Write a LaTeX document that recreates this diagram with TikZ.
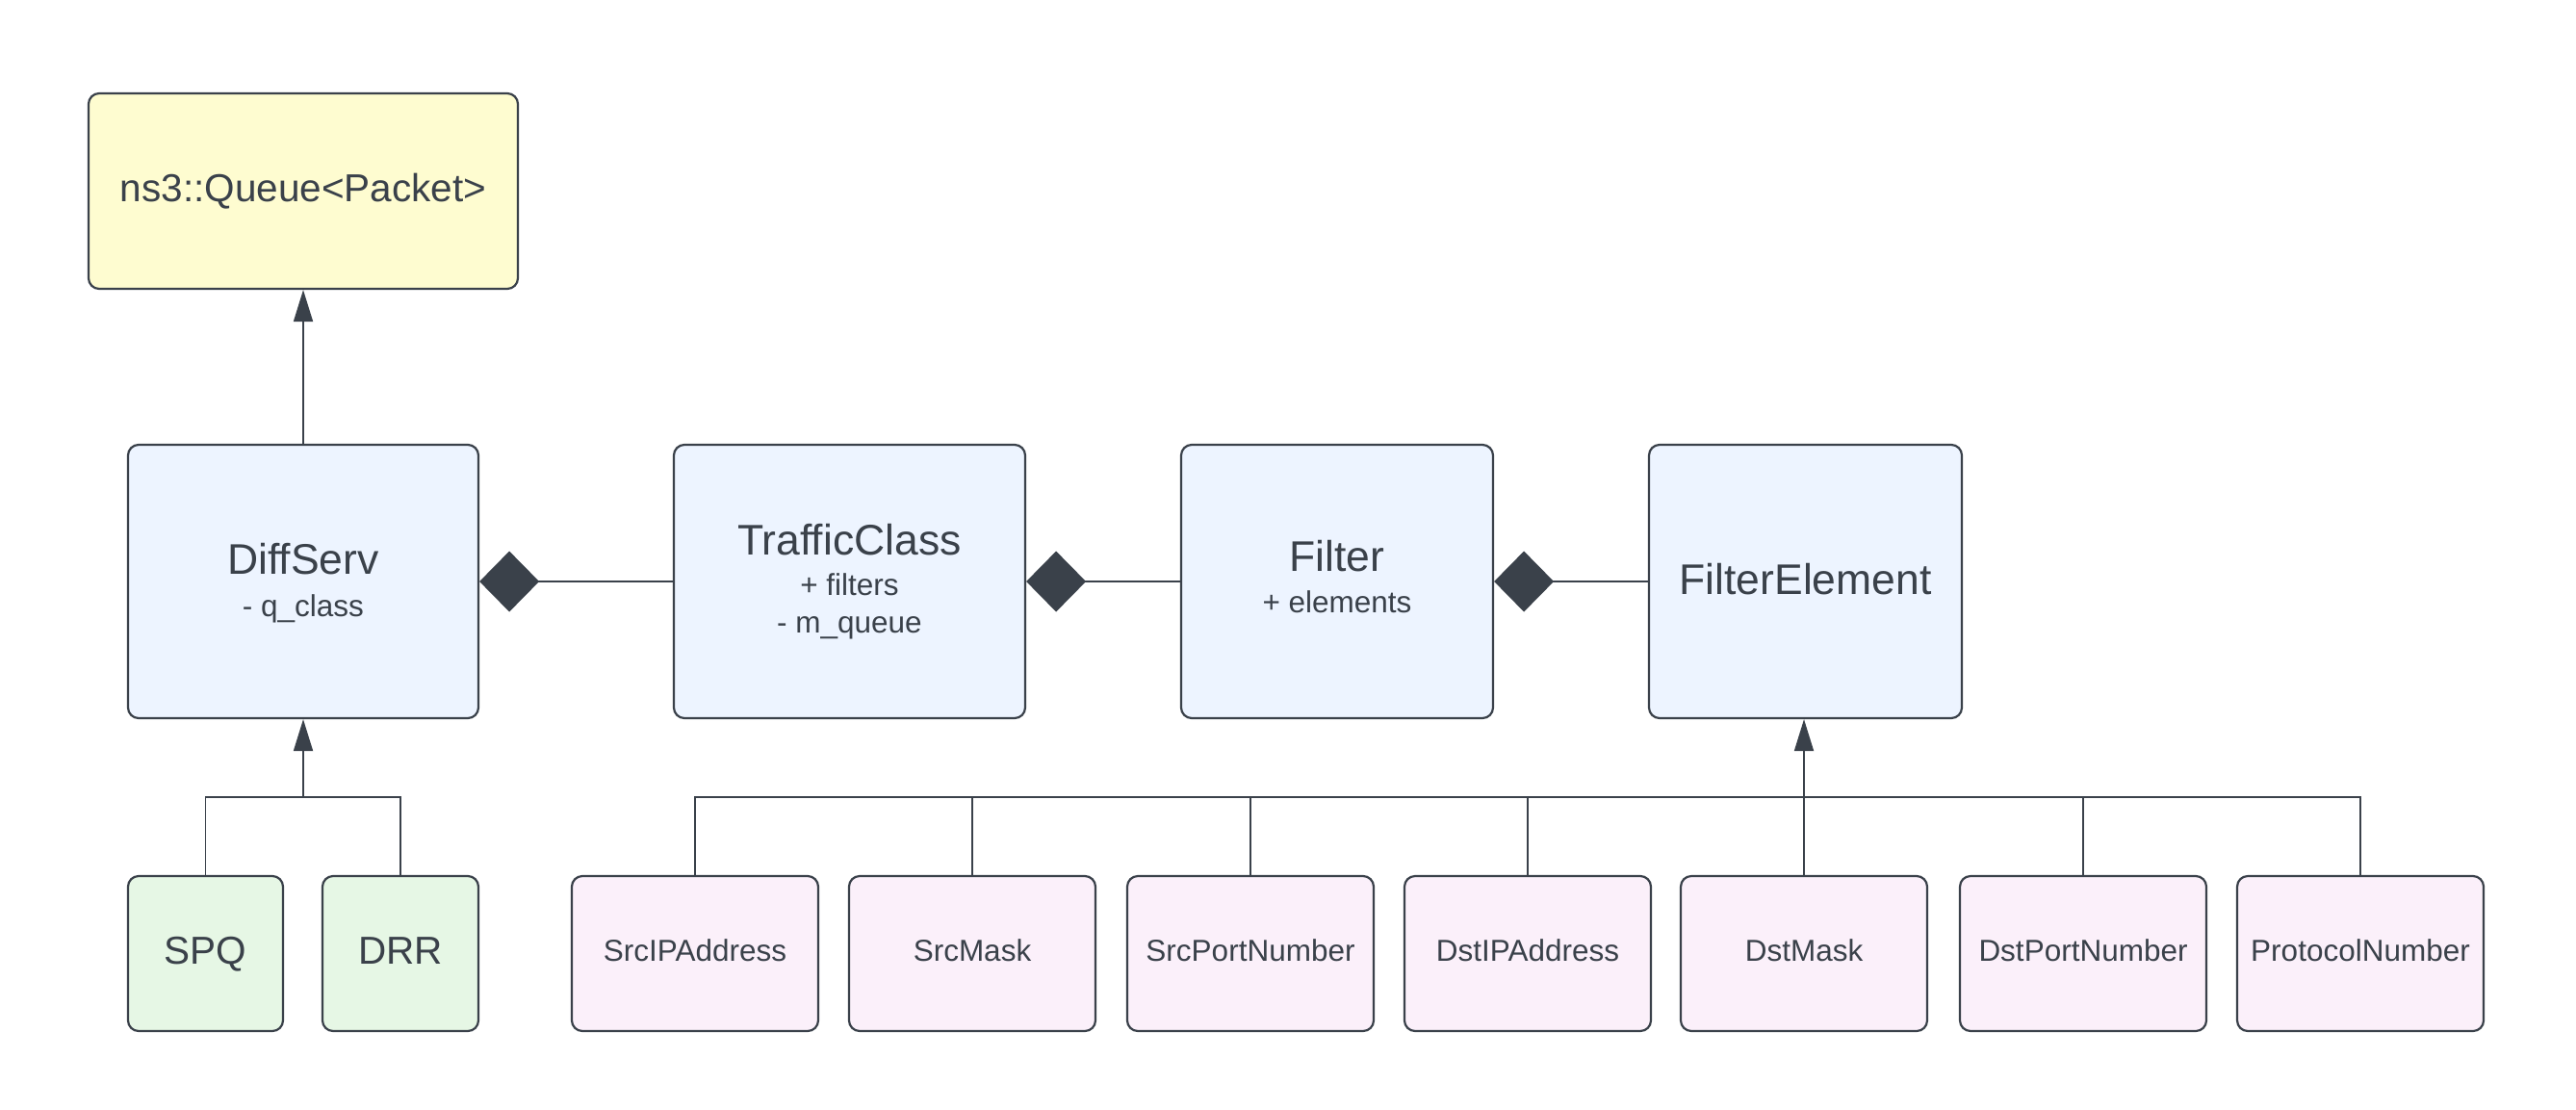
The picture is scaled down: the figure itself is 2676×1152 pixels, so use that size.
\documentclass[tikz,border=0pt]{standalone}
\usepackage{fontspec}
\setmainfont{Liberation Sans}
\usetikzlibrary{arrows.meta}
\definecolor{ink}{HTML}{3A414A}
\definecolor{fyellow}{HTML}{FEFCD0}
\definecolor{fblue}{HTML}{EDF4FF}
\definecolor{fgreen}{HTML}{E6F7E5}
\definecolor{fpink}{HTML}{FBF0FA}
\tikzset{
  box/.style={draw=ink, line width=2.2pt, rounded corners=11pt, inner sep=0pt},
  conn/.style={draw=ink, line width=1.8pt},
  inh/.style={conn, -{Triangle[length=33pt,width=20pt]}, fill=ink},
  comp/.style={conn, -{Diamond[length=62pt,width=63pt]}, fill=ink},
  ttl/.style={text=ink, anchor=base, inner sep=0pt, font=\fontsize{44.5}{50}\selectfont},
  mid/.style={text=ink, anchor=base, inner sep=0pt, font=\fontsize{40.5}{46}\selectfont},
  attr/.style={text=ink, anchor=base, inner sep=0pt, font=\fontsize{31.5}{36}\selectfont},
}
\begin{document}
\begin{tikzpicture}[x=1pt,y=-1pt]
\useasboundingbox[fill=white] (0,0) rectangle (2676,1152);
% top boxes
\node[box, fill=fyellow, minimum width=446pt, minimum height=203pt] (queue) at (315,198.5) {};
\node[mid] (queuet) at (315,209) {ns3::Queue<Packet>};
\node[box, fill=fblue, minimum width=364pt, minimum height=284pt] (diffserv) at (315,604) {};
\node[ttl] (diffservt) at (315,596) {DiffServ};
\node[attr] (diffserva) at (315,640) {- q\_class};
\node[box, fill=fblue, minimum width=365pt, minimum height=284pt] (traffic) at (882.5,604) {};
\node[ttl] (traffict) at (882.5,576) {TrafficClass};
\node[attr] (traffica) at (882.5,618) {+ filters};
\node[attr] (trafficb) at (882.5,657) {- m\_queue};
\node[box, fill=fblue, minimum width=324pt, minimum height=284pt] (filter) at (1389,604) {};
\node[ttl] (filtert) at (1389,593) {Filter};
\node[attr] (filtera) at (1389,636) {+ elements};
\node[box, fill=fblue, minimum width=325pt, minimum height=284pt] (felem) at (1875.5,604) {};
\node[ttl] (felemt) at (1875.5,617) {FilterElement};
% bottom boxes
\node[box, fill=fgreen, minimum width=161pt, minimum height=161pt] (spq) at (213.5,990.5) {};
\node[mid] (spqt) at (213.5,1001) {SPQ};
\node[box, fill=fgreen, minimum width=162pt, minimum height=161pt] (drr) at (416,990.5) {};
\node[mid] (drrt) at (416,1001) {DRR};
\foreach \n/\x/\t in {srcip/722/SrcIPAddress, srcmask/1010/SrcMask, srcport/1299/SrcPortNumber,
  dstip/1587/DstIPAddress, dstmask/1874/DstMask, dstport/2164/DstPortNumber, proto/2452/ProtocolNumber}{
  \node[box, fill=fpink, minimum width=256pt, minimum height=161pt] (\n) at (\x,990.5) {};
  \node[attr] (\n t) at (\x,998) {\t};
}
% connectors
\draw[inh] (diffserv.north) -- (queue.south);
\draw[comp] (traffic.west) -- (diffserv.east);
\draw[comp] (filter.west) -- (traffic.east);
\draw[comp] (felem.west) -- (filter.east);
\coordinate (dsbus) at (315,828);
\draw[conn] (spq.north) -- (spq.north |- dsbus) -- (drr.north |- dsbus) -- (drr.north);
\draw[inh] (dsbus) -- (diffserv.south);
\coordinate (febus) at (1874,828);
\draw[conn] (srcip.north) -- (srcip.north |- febus) -- (proto.north |- febus) -- (proto.north);
\foreach \n in {srcmask, srcport, dstip, dstport}{
  \draw[conn] (\n.north) -- (\n.north |- febus);
}
\draw[inh] (dstmask.north) -- (dstmask.north |- felem.south);
\end{tikzpicture}
\end{document}
